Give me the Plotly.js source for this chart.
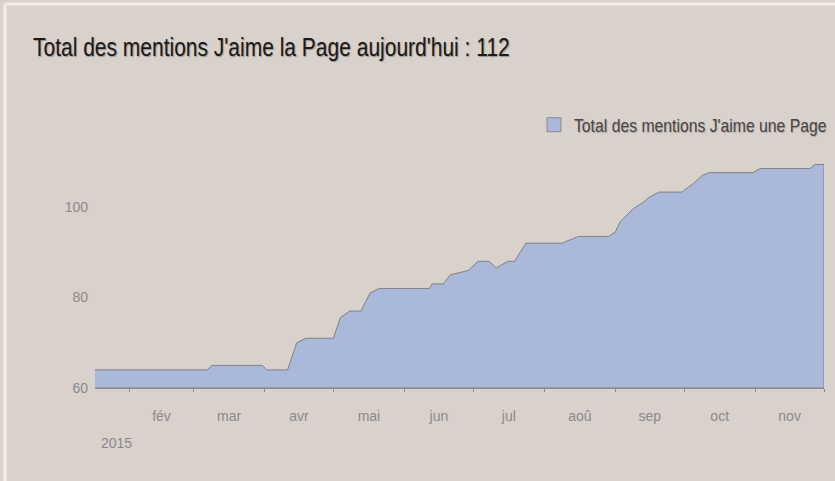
<!DOCTYPE html>
<html>
<head>
<meta charset="utf-8">
<script src="https://cdn.plot.ly/plotly-3.0.1.min.js"></script>
<style>
  html, body { margin: 0; padding: 0; background: #d8d1cc; }
  #chart { width: 835px; height: 481px; }
  /* the reference's text is horizontally condensed */
  #chart text.gtitle { transform-box: fill-box; transform-origin: 0 50%; transform: scaleX(0.84); }
  #chart text.legendtext { transform-box: fill-box; transform-origin: 0 50%; transform: scaleX(0.875); }
</style>
</head>
<body>
<div id="chart"></div>
<script>
// ---- Data ----
const dates = [
  '2015-01-17', '2015-03-07', '2015-03-09', '2015-03-31', '2015-04-02',
  '2015-04-11', '2015-04-15', '2015-04-19', '2015-05-01', '2015-05-04',
  '2015-05-08', '2015-05-13', '2015-05-17', '2015-05-21', '2015-06-12',
  '2015-06-13', '2015-06-18', '2015-06-21', '2015-06-29', '2015-07-03',
  '2015-07-08', '2015-07-11', '2015-07-16', '2015-07-19', '2015-07-24',
  '2015-08-09', '2015-08-11', '2015-08-16', '2015-08-29', '2015-09-01',
  '2015-09-03', '2015-09-09', '2015-09-13', '2015-09-16', '2015-09-20',
  '2015-09-30', '2015-10-05', '2015-10-09', '2015-10-12', '2015-10-31',
  '2015-11-03', '2015-11-25', '2015-11-27', '2015-12-01'
];
const likes = [
  64, 64, 65, 65, 64,
  64, 70, 71, 71, 75.5,
  77, 77, 81, 82, 82,
  83, 83, 85, 86, 88,
  88, 86.5, 88, 88, 92,
  92, 92.5, 93.5, 93.5, 94.5,
  96.7, 99.7, 101, 102.2, 103.3,
  103.3, 105.2, 107, 107.6, 107.6,
  108.5, 108.5, 109.4, 109.4
];
const seriesName = "Total des mentions J'aime une Page";
const chartTitle = "Total des mentions J'aime la Page aujourd'hui : 112";
const yearLabel = '2015';
const yTicks = [60, 80, 100];
const frShortMonths = ['jan', 'fév', 'mar', 'avr', 'mai', 'jun', 'jul', 'aoû', 'sep', 'oct', 'nov', 'déc'];
const frMonths = ['janvier', 'février', 'mars', 'avril', 'mai', 'juin', 'juillet', 'août', 'septembre', 'octobre', 'novembre', 'décembre'];

// ---- French locale for date tick labels ----
Plotly.register({
  moduleType: 'locale',
  name: 'fr',
  dictionary: {},
  format: {
    days: ['dimanche', 'lundi', 'mardi', 'mercredi', 'jeudi', 'vendredi', 'samedi'],
    shortDays: ['dim', 'lun', 'mar', 'mer', 'jeu', 'ven', 'sam'],
    months: frMonths,
    shortMonths: frShortMonths,
    date: '%d/%m/%Y',
    decimal: ',',
    thousands: ' '
  }
});

const yMin = 60, yMax = 112.6;
const lastDate = dates[dates.length - 1];
const fillColor = '#aab9da';
const edgeColor = '#808080';

const areaTrace = {
  type: 'scatter',
  mode: 'lines',
  name: seriesName,
  x: dates.concat([lastDate, dates[0]]),
  y: likes.concat([yMin, yMin]),
  fill: 'toself',
  fillcolor: fillColor,
  line: { color: edgeColor, width: 1 },
  hoverinfo: 'skip',
  showlegend: false
};

// legend key only (square swatch like the reference)
const legendKey = {
  type: 'scatter',
  mode: 'markers',
  name: seriesName,
  x: [null],
  y: [null],
  marker: { symbol: 'square', size: 14, color: fillColor, line: { color: '#8a8a8a', width: 1 } },
  hoverinfo: 'skip',
  showlegend: true
};

const tickFont = { family: 'Liberation Sans, Arial, sans-serif', size: 14, color: '#8a8a8a' };

const layout = {
  width: 835,
  height: 481,
  paper_bgcolor: '#d8d1cc',
  plot_bgcolor: '#d8d1cc',
  margin: { l: 95, r: 11, t: 150, b: 93, pad: 0, autoexpand: false },
  font: { family: 'Liberation Sans, Arial, sans-serif', color: '#8a8a8a', size: 14 },
  title: {
    text: chartTitle,
    font: { family: 'Liberation Sans, Arial, sans-serif', size: 25, color: '#1a1a1a',
            shadow: '1px 1px 1px rgba(0,0,0,0.3)' },
    xref: 'container', x: 33 / 835, xanchor: 'left',
    yref: 'container', y: 1 - 47 / 481, yanchor: 'middle'
  },
  showlegend: true,
  legend: {
    x: (534 - 95) / 729, xanchor: 'left',
    y: 1.105, yanchor: 'middle',
    bgcolor: 'rgba(0,0,0,0)',
    font: { family: 'Liberation Sans, Arial, sans-serif', size: 18, color: '#464646',
            shadow: '1px 1px 1px rgba(0,0,0,0.2)' }
  },
  xaxis: {
    type: 'date',
    range: [dates[0], lastDate],
    tickmode: 'linear',
    tick0: '2015-01-01',
    dtick: 'M1',
    ticklabelmode: 'period',
    tickformat: '%b',
    ticks: 'outside',
    ticklen: 3,
    tickcolor: '#8a8a8a',
    ticklabelstandoff: 12,
    showline: true,
    linecolor: '#8a8a8a',
    linewidth: 1,
    showgrid: false,
    zeroline: false,
    fixedrange: true,
    automargin: false,
    tickfont: tickFont
  },
  yaxis: {
    range: [yMin, yMax],
    tickmode: 'array',
    tickvals: yTicks,
    ticktext: yTicks.map(String),
    ticks: '',
    ticklabelstandoff: 6,
    showline: false,
    showgrid: false,
    zeroline: false,
    fixedrange: true,
    automargin: false,
    tickfont: tickFont
  },
  annotations: [{
    text: yearLabel,
    xref: 'paper', yref: 'paper',
    x: (116.7 - 95) / 729, y: (388 - 442.7) / 238,
    xanchor: 'center', yanchor: 'middle',
    showarrow: false,
    font: tickFont
  }],
  shapes: [
    { type: 'line', xref: 'paper', yref: 'paper', x0: (5 - 95) / 729, x1: (840 - 95) / 729,
      y0: (388 - 4) / 238, y1: (388 - 4) / 238, line: { color: '#f1ede9', width: 3 } },
    { type: 'line', xref: 'paper', yref: 'paper', x0: (5 - 95) / 729, x1: (5 - 95) / 729,
      y0: (388 - 4) / 238, y1: (388 - 490) / 238, line: { color: '#f1ede9', width: 3 } }
  ]
};

Plotly.newPlot('chart', [areaTrace, legendKey], layout, { locale: 'fr', staticPlot: true, displayModeBar: false });
</script>
</body>
</html>
